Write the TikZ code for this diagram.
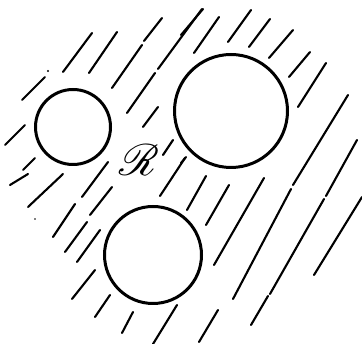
\documentclass[tikz,border=0pt]{standalone}
\usepackage{mathrsfs}
\usepackage{pdfrender}
\begin{document}
\begin{tikzpicture}[x=1pt,y=-1pt,
  hatch/.style={line width=2.1pt,line cap=round},
  hole/.style={draw,circle,line width=3pt,inner sep=0pt}]
\useasboundingbox (0,0) rectangle (362,344);
% holes
\node[hole,minimum size=75pt] (c1) at (73,127) {};
\node[hole,minimum size=113pt] (c2) at (231,111) {};
\node[hole,minimum size=97pt] (c3) at (153,255) {};
\node (R) at (139,160) {\scalebox{4.4}{\textpdfrender{TextRenderingMode=FillStroke,LineWidth=0.5,LineJoin=1}{$\mathscr{R}$}}};
% hatching
\foreach \a/\b/\c/\d in {
 22/100/45/77, 63/72/92/33, 89/73/117/32, 112/88/142/45, 144/41/162/18,
 127/113/155/73, 158/69/202/9, 143/127/158/107, 163/155/173/140,
 5/145/25/125, 23/170/35/158, 82/197/108/162, 10/185/28/174,
 28/207/63/174, 53/237/75/204, 65/252/87/222, 90/215/112/187,
 77/262/100/230, 72/299/95/270, 95/317/110/295, 122/333/133/312,
 153/344/177/305, 160/196/185/158, 187/210/206/176,
 181/35/203/9, 194/53/219/17, 228/42/251/10, 249/47/270/19,
 269/58/293/30, 289/77/310/52, 298/107/326/63,
 233/299/291/189, 293/185/348/95,
 251/325/268/296, 270/294/324/199, 326/196/357/140,
 314/275/362/197, 206/225/229/185, 214/265/264/178,
 199/342/218/310, 181/163/186/157}
  \draw[hatch] (\a,\b) -- (\c,\d);
\fill (48,71) circle (1.2pt);
\fill (35,219) circle (0.8pt);
\end{tikzpicture}
\end{document}
